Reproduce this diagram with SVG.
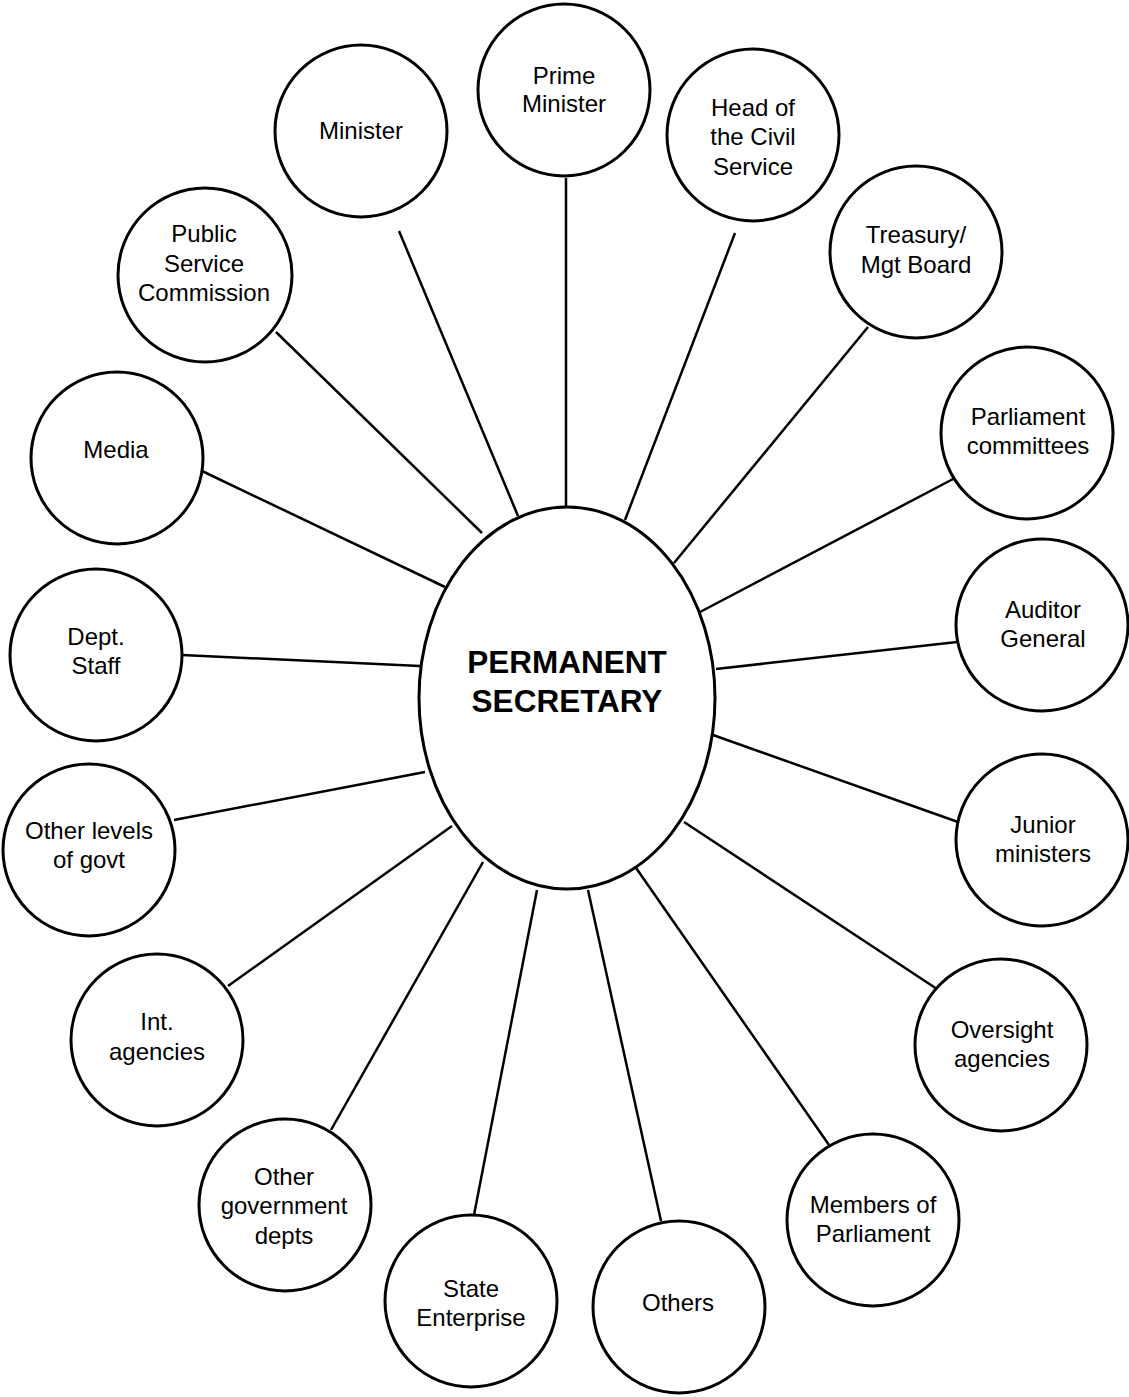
<svg xmlns="http://www.w3.org/2000/svg" width="1129" height="1397" viewBox="0 0 1129 1397">
<style>
.n{fill:#fff;stroke:#000;stroke-width:3}
.t{font-family:"Liberation Sans",Arial,sans-serif;font-size:24px;fill:#000;text-anchor:middle}
.c line{stroke:#000;stroke-width:2.5}
.b{font-family:"Liberation Sans",Arial,sans-serif;font-size:31.5px;font-weight:bold;fill:#000;text-anchor:middle}
</style>
<rect width="1129" height="1397" fill="#fff"/>
<g class="c" id="connectors">
<line x1="566" y1="178" x2="566" y2="510"/>
<line x1="735" y1="233" x2="625" y2="520"/>
<line x1="868" y1="327" x2="674" y2="563"/>
<line x1="955" y1="478" x2="700" y2="612"/>
<line x1="957" y1="642" x2="716" y2="669"/>
<line x1="958" y1="822" x2="713" y2="735"/>
<line x1="937" y1="989" x2="684" y2="822"/>
<line x1="829" y1="1145" x2="634" y2="865"/>
<line x1="661" y1="1221" x2="588" y2="890"/>
<line x1="474" y1="1215" x2="537" y2="890"/>
<line x1="331" y1="1130" x2="483" y2="862"/>
<line x1="228" y1="986" x2="452" y2="826"/>
<line x1="174" y1="820" x2="425" y2="772"/>
<line x1="182" y1="655" x2="420" y2="666"/>
<line x1="202" y1="471" x2="445" y2="587"/>
<line x1="276" y1="332" x2="482" y2="533"/>
<line x1="399" y1="231" x2="518" y2="516"/>
</g>
<g id="center"><ellipse class="n" cx="567" cy="698" rx="148" ry="191"/><text class="b" x="567" y="673">PERMANENT</text><text class="b" x="567" y="712">SECRETARY</text></g>
<g id="pm"><circle class="n" cx="564" cy="90" r="86"/><text class="t" x="564" y="84">Prime</text><text class="t" x="564" y="112">Minister</text></g>
<g id="head"><circle class="n" cx="753" cy="135" r="86"/><text class="t" x="753" y="116">Head of</text><text class="t" x="753" y="145">the Civil</text><text class="t" x="753" y="175">Service</text></g>
<g id="treasury"><circle class="n" cx="916" cy="252" r="86"/><text class="t" x="916" y="243">Treasury/</text><text class="t" x="916" y="273">Mgt Board</text></g>
<g id="parlcomm"><circle class="n" cx="1027" cy="433" r="86"/><text class="t" x="1028" y="425">Parliament</text><text class="t" x="1028" y="454">committees</text></g>
<g id="auditor"><circle class="n" cx="1042" cy="625" r="86"/><text class="t" x="1043" y="618">Auditor</text><text class="t" x="1043" y="647">General</text></g>
<g id="junior"><circle class="n" cx="1042" cy="840" r="86"/><text class="t" x="1043" y="833">Junior</text><text class="t" x="1043" y="862">ministers</text></g>
<g id="oversight"><circle class="n" cx="1001" cy="1045" r="86"/><text class="t" x="1002" y="1038">Oversight</text><text class="t" x="1002" y="1067">agencies</text></g>
<g id="mop"><circle class="n" cx="873" cy="1220" r="86"/><text class="t" x="873" y="1213">Members of</text><text class="t" x="873" y="1242">Parliament</text></g>
<g id="others"><circle class="n" cx="679" cy="1307" r="86"/><text class="t" x="678" y="1311">Others</text></g>
<g id="state"><circle class="n" cx="471" cy="1301" r="86"/><text class="t" x="471" y="1297">State</text><text class="t" x="471" y="1326">Enterprise</text></g>
<g id="othergov"><circle class="n" cx="285" cy="1205" r="86"/><text class="t" x="284" y="1185">Other</text><text class="t" x="284" y="1214">government</text><text class="t" x="284" y="1244">depts</text></g>
<g id="int"><circle class="n" cx="157" cy="1040" r="86"/><text class="t" x="157" y="1030">Int.</text><text class="t" x="157" y="1060">agencies</text></g>
<g id="otherlevels"><circle class="n" cx="89" cy="850" r="86"/><text class="t" x="89" y="839">Other levels</text><text class="t" x="89" y="868">of govt</text></g>
<g id="dept"><circle class="n" cx="96" cy="655" r="86"/><text class="t" x="96" y="645">Dept.</text><text class="t" x="96" y="674">Staff</text></g>
<g id="media"><circle class="n" cx="117" cy="458" r="86"/><text class="t" x="116" y="458">Media</text></g>
<g id="psc"><circle class="n" cx="205" cy="275" r="87"/><text class="t" x="204" y="242">Public</text><text class="t" x="204" y="272">Service</text><text class="t" x="204" y="301">Commission</text></g>
<g id="minister"><circle class="n" cx="361" cy="131" r="86"/><text class="t" x="361" y="139">Minister</text></g>
</svg>
